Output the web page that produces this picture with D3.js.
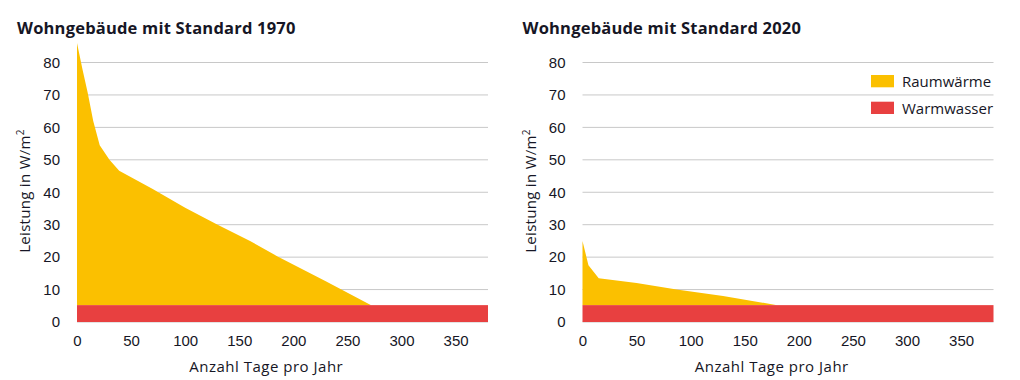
<!DOCTYPE html>
<html>
<head>
<meta charset="utf-8">
<script src="https://cdn.jsdelivr.net/npm/d3@7"></script>
<style>
  body { margin: 0; background: #fff; }
  svg { display: block; font-family: "Open Sans", Lato, sans-serif; }
</style>
</head>
<body>
<svg id="chart" width="1020" height="380"></svg>
<script>
// days per year vs. load in W/m2 (total, incl. warm water)
var days1970 = [0, 5, 10, 15, 21, 30, 39, 70, 100, 130, 160, 185, 230, 272];
var load1970 = [86, 78, 70.5, 62, 54.5, 50, 46.6, 41, 35.2, 30, 25, 20.3, 12.6, 5.2];
var days2020 = [0, 5.5, 15, 50, 87, 130, 180];
var load2020 = [25, 17.5, 13.5, 12, 10, 8, 5.2];
var warmwasser = 5.2;
var xTicks = [0, 50, 100, 150, 200, 250, 300, 350];
var yTicks = [0, 10, 20, 30, 40, 50, 60, 70, 80];
var legendLabels = ['Raumwärme', 'Warmwasser'];

var yellow = '#fbc000';
var red = '#e84040';
var ink = '#161625';

var svg = d3.select('#chart');

var drawPanel = function(left, title, days, load) {
  var x = d3.scaleLinear().domain([0, 380]).range([left, left + 411]);
  var y = d3.scaleLinear().domain([0, 80]).range([322, 62.5]);
  var g = svg.append('g');

  g.append('text')
    .attr('x', left - 60)
    .attr('y', 34)
    .attr('font-size', 16.5)
    .attr('font-weight', 'bold')
    .attr('letter-spacing', 0.2)
    .attr('fill', ink)
    .text(title);

  g.selectAll('.grid').data(yTicks).enter().append('line')
    .attr('x1', x(0)).attr('x2', x(380))
    .attr('y1', function(d) { return y(d); })
    .attr('y2', function(d) { return y(d); })
    .attr('stroke', '#c8c8c8')
    .attr('stroke-width', 1);

  var pts = days.map(function(d, i) { return [d, load[i]]; });
  var area = d3.area()
    .x(function(d) { return x(d[0]); })
    .y0(y(warmwasser))
    .y1(function(d) { return y(d[1]); });
  g.append('path').datum(pts).attr('d', area).attr('fill', yellow);

  g.append('rect')
    .attr('x', x(0)).attr('width', x(380) - x(0))
    .attr('y', y(warmwasser)).attr('height', y(0) - y(warmwasser))
    .attr('fill', red);

  var yAxis = d3.axisLeft(y).tickValues(yTicks).tickSize(0).tickPadding(17);
  var ya = g.append('g').attr('transform', 'translate(' + x(0) + ',0)').call(yAxis);
  ya.select('.domain').remove();
  ya.selectAll('text').attr('font-size', 15).attr('fill', ink).attr('font-family', null);

  var xAxis = d3.axisBottom(x).tickValues(xTicks).tickSize(0).tickPadding(13);
  var xa = g.append('g').attr('transform', 'translate(0,' + y(0) + ')').call(xAxis);
  xa.select('.domain').remove();
  xa.selectAll('text').attr('font-size', 15).attr('fill', ink).attr('font-family', null);

  g.append('text')
    .attr('x', x(175))
    .attr('y', 372)
    .attr('text-anchor', 'middle')
    .attr('font-size', 15)
    .attr('letter-spacing', 0.5)
    .attr('fill', ink)
    .text('Anzahl Tage pro Jahr');

  var yt = g.append('text')
    .attr('transform', 'translate(' + (left - 47) + ',191) rotate(-90)')
    .attr('text-anchor', 'middle')
    .attr('font-size', 15)
    .attr('letter-spacing', 0.3)
    .attr('fill', ink);
  yt.append('tspan').text('Leistung in W/m');
  yt.append('tspan').attr('font-size', 10).attr('dy', -6).text('2');

  return x;
};

drawPanel(77, 'Wohngebäude mit Standard 1970', days1970, load1970);
drawPanel(582.5, 'Wohngebäude mit Standard 2020', days2020, load2020);

var legend = svg.append('g').attr('transform', 'translate(871,75)');
legendLabels.forEach(function(label, i) {
  legend.append('rect')
    .attr('x', 0).attr('y', i * 26.7)
    .attr('width', 23).attr('height', 12.3)
    .attr('fill', i === 0 ? yellow : red);
  legend.append('text')
    .attr('x', 31).attr('y', i * 26.7 + 12)
    .attr('font-size', 15)
    .attr('fill', ink)
    .text(label);
});
</script>
</body>
</html>
